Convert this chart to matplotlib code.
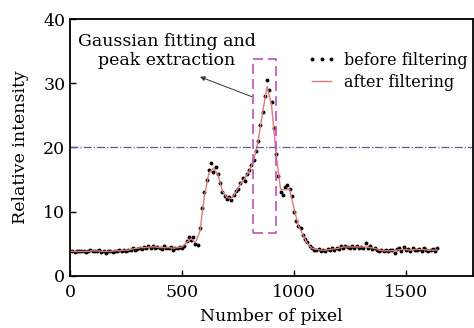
import numpy as np
import matplotlib.pyplot as plt

plt.rcParams['font.family'] = ['DejaVu Serif']

# raw profile, one value every 10 pixels
pix_raw = np.arange(0, 1650, 10)
before = [
    3.8, 3.9, 3.7, 3.9, 3.8, 3.8, 3.9, 3.7, 3.8, 4.0, 3.9,
    3.9, 3.8, 4.0, 3.7, 3.8, 3.6, 3.9, 3.8, 3.7, 3.9,
    3.8, 4.0, 3.9, 4.0, 3.8, 4.1, 4.0, 4.3, 4.1, 4.2,
    4.4, 4.2, 4.5, 4.3, 4.6, 4.4, 4.7, 4.3, 4.5, 4.4,
    4.2, 4.6, 4.3, 4.4, 4.5, 4.1, 4.4, 4.3, 4.5, 4.3,
    4.6, 5.4, 6.0, 5.6, 6.1, 5.0, 4.8, 7.5, 10.5, 13.0,
    15.0, 16.5, 17.5, 16.2, 17.0, 15.8, 14.5, 13.0, 12.5, 11.9,
    12.3, 11.8, 12.6, 13.2, 13.6, 14.5, 15.2, 14.8, 15.8, 16.5,
    17.2, 18.0, 19.5, 21.0, 23.5, 25.5, 28.0, 30.5, 29.0, 27.0,
    23.0, 19.0, 15.5, 13.0, 12.6, 13.8, 14.2, 13.5, 12.5, 10.0,
    8.5, 7.8, 7.5, 6.4, 5.8, 5.2, 4.6, 4.3, 4.1, 4.0,
    4.2, 3.9, 4.1, 3.9, 4.2, 4.0, 4.3, 4.1, 4.4, 4.2,
    4.6, 4.4, 4.7, 4.5, 4.3, 4.6, 4.4, 4.7, 4.4, 4.5,
    4.3, 5.1, 4.4, 4.6, 4.2, 4.3, 4.0, 3.9, 4.1, 3.8,
    4.0, 3.9, 4.1, 4.0, 3.6, 4.2, 4.4, 3.9, 4.5, 4.0,
    4.2, 3.8, 4.3, 4.1, 4.0, 4.2, 3.9, 4.4, 4.1, 3.9,
    4.0, 4.2, 3.9, 4.3,
]

# filtered profile, one value every 20 pixels
pix_filt = np.arange(0, 1650, 20)
after = [
    3.8, 3.8, 3.8, 3.8, 3.8, 3.9, 3.9, 3.8, 3.8, 3.8,
    3.9, 3.9, 4.0, 4.0, 4.2, 4.3, 4.4, 4.4, 4.5, 4.5,
    4.4, 4.4, 4.4, 4.3, 4.4, 4.5, 5.2, 5.8, 5.2, 7.0,
    12.5, 16.0, 16.8, 15.8, 13.2, 12.2, 12.0, 13.0, 14.3, 15.2,
    16.3, 18.0, 21.0, 25.5, 29.5, 26.5, 19.0, 13.5, 13.4, 13.5,
    10.5, 7.8, 6.4, 5.0, 4.3, 4.1, 4.0, 4.0, 4.1, 4.2,
    4.3, 4.5, 4.5, 4.5, 4.5, 4.5, 4.5, 4.4, 4.3, 4.0,
    3.9, 3.9, 3.9, 4.0, 4.1, 4.1, 4.0, 4.1, 4.1, 4.1,
    4.0, 4.0, 4.0,
]

threshold = 20
box_x = [818, 920]
box_y = [6.6, 33.7]

fig = plt.figure(figsize=(4.74, 3.28), dpi=100)
ax = fig.add_axes([0.148, 0.159, 0.85, 0.783])

ax.plot(pix_raw, before, linestyle='none', marker='o', markersize=2.8,
        markeredgewidth=0, color='black', label='before filtering')
ax.plot(pix_filt, after, color='#e07a7a', linewidth=1.0, label='after filtering')

ax.axhline(threshold, color='#5a5aa8', linestyle='-.', linewidth=0.9)
ax.plot([box_x[0], box_x[1], box_x[1], box_x[0], box_x[0]],
        [box_y[0], box_y[0], box_y[1], box_y[1], box_y[0]],
        color='#c050c0', linestyle='--', linewidth=1.2, dashes=(6, 3))

ax.text(433, 35.0, 'Gaussian fitting and\npeak extraction', ha='center', va='center',
        fontsize=12.5, linespacing=1.15)
ax.annotate('', xy=(580, 31.0), xytext=(812, 27.9),
            arrowprops=dict(arrowstyle='-|>', color='#333333', lw=0.7,
                            mutation_scale=7, shrinkA=0, shrinkB=0))

ax.set_xlim(0, 1800)
ax.set_ylim(0, 40)
ax.set_xticks([0, 500, 1000, 1500])
ax.set_yticks([0, 10, 20, 30, 40])
ax.tick_params(direction='in', length=4, width=1.0, labelsize=12.5)
ax.tick_params(axis='x', pad=6)
for s in ax.spines.values():
    s.set_linewidth(1.3)

ax.set_xlabel('Number of pixel', fontsize=12.5, labelpad=5)
ax.set_ylabel('Relative intensity', fontsize=12.5, labelpad=10)

ax.legend(loc='upper right', bbox_to_anchor=(1.01, 0.91), frameon=False,
          numpoints=3, fontsize=11.5, handlelength=1.8, handletextpad=0.5,
          labelspacing=0.3, borderaxespad=0.2)

fig.savefig('out.png', dpi=100)
